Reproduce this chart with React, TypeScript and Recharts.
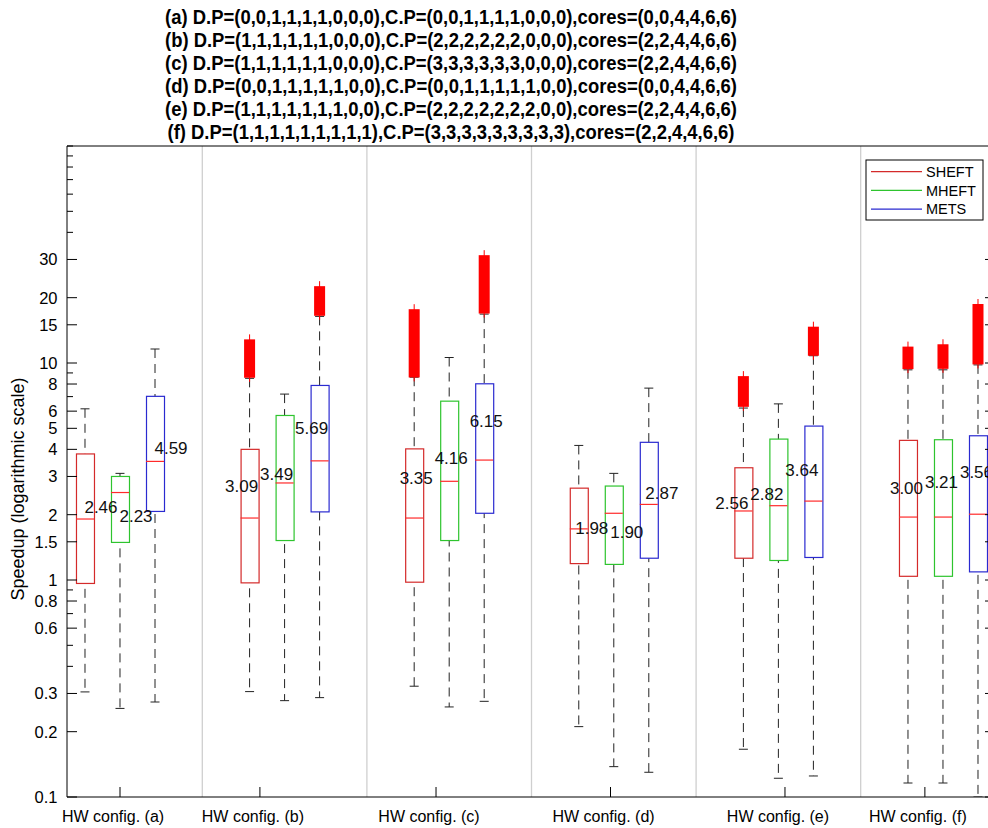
import { ComposedChart, Bar, Scatter, XAxis, YAxis, ReferenceLine } from 'recharts'

const CONFIGS = ['(a)', '(b)', '(c)', '(d)', '(e)', '(f)']
const ALGOS = ['SHEFT', 'MHEFT', 'METS']

const TITLES = [
  '(a) D.P=(0,0,1,1,1,1,0,0,0),C.P=(0,0,1,1,1,1,0,0,0),cores=(0,0,4,4,6,6)',
  '(b) D.P=(1,1,1,1,1,1,0,0,0),C.P=(2,2,2,2,2,2,0,0,0),cores=(2,2,4,4,6,6)',
  '(c) D.P=(1,1,1,1,1,1,0,0,0),C.P=(3,3,3,3,3,3,0,0,0),cores=(2,2,4,4,6,6)',
  '(d) D.P=(0,0,1,1,1,1,1,0,0),C.P=(0,0,1,1,1,1,1,0,0),cores=(0,0,4,4,6,6)',
  '(e) D.P=(1,1,1,1,1,1,1,0,0),C.P=(2,2,2,2,2,2,2,0,0),cores=(2,2,4,4,6,6)',
  '(f) D.P=(1,1,1,1,1,1,1,1,1),C.P=(3,3,3,3,3,3,3,3,3),cores=(2,2,4,4,6,6)',
]

// one row per HW config, values for [SHEFT, MHEFT, METS]
const WHISKER_LOW = [
  [0.305, 0.256, 0.274],
  [0.306, 0.278, 0.287],
  [0.324, 0.26, 0.276],
  [0.211, 0.138, 0.13],
  [0.166, 0.122, 0.125],
  [0.116, 0.116, 0.1],
]
const Q1 = [
  [0.964, 1.49, 2.07],
  [0.97, 1.52, 2.06],
  [0.977, 1.52, 2.03],
  [1.19, 1.18, 1.26],
  [1.26, 1.23, 1.27],
  [1.04, 1.04, 1.09],
]
const MEDIAN = [
  [1.91, 2.53, 3.52],
  [1.93, 2.8, 3.54],
  [1.93, 2.85, 3.57],
  [1.72, 2.03, 2.23],
  [2.08, 2.2, 2.31],
  [1.95, 1.95, 2.01],
]
const Q3 = [
  [3.81, 3.0, 7.02],
  [4.0, 5.73, 7.88],
  [4.02, 6.67, 8.02],
  [2.65, 2.71, 4.31],
  [3.29, 4.46, 5.12],
  [4.4, 4.43, 4.62],
]
const WHISKER_HIGH = [
  [6.15, 3.1, 11.6],
  [8.5, 7.19, 16.4],
  [8.6, 10.6, 16.8],
  [4.17, 3.1, 7.66],
  [6.2, 6.48, 10.8],
  [9.3, 9.3, 9.8],
]
// extent of the dense outlier marks (null = none)
const OUTLIER_LOW = [
  [null, null, null],
  [8.55, null, 16.5],
  [8.58, null, 16.9],
  [null, null, null],
  [6.28, null, 10.8],
  [9.37, 9.4, 9.85],
]
const OUTLIER_HIGH = [
  [null, null, null],
  [12.85, null, 22.6],
  [17.7, null, 31.4],
  [null, null, null],
  [8.7, null, 14.7],
  [11.9, 12.2, 18.7],
]
const MEAN = [
  [2.46, 2.23, 4.59],
  [3.09, 3.49, 5.69],
  [3.35, 4.16, 6.15],
  [1.98, 1.9, 2.87],
  [2.56, 2.82, 3.64],
  [3.0, 3.21, 3.56],
]

const X_TICKS = [0, 0.85, 1.92, 2.98, 4.04, 4.89]
const Y_TICKS = [
  0.1, 0.2, 0.3, 0.4, 0.5, 0.6, 0.7, 0.8, 0.9, 1, 1.5, 2, 3, 4, 5, 6, 7, 8, 9,
  10, 15, 20, 30, 40, 50, 60, 70, 80, 90, 100,
]
const Y_LABELS = [0.1, 0.2, 0.3, 0.6, 0.8, 1, 1.5, 2, 3, 4, 5, 6, 8, 10, 15, 20, 30]

const COLORS = ['#d42a2a', '#2ec42e', '#2a2ad0']
const FONT = '"Liberation Sans", Arial, Helvetica, sans-serif'
const X_DOMAIN: [number, number] = [-0.322, 5.316]
const DODGE = 0.2127
const LABEL_DX = [16, -8, 2, 13, -11.5, -1.5]

const rows = CONFIGS.flatMap((_, g) =>
  ALGOS.map((_, a) => ({
    pos: g + (a - 1) * DODGE,
    g,
    a,
    whisker: [WHISKER_LOW[g][a], WHISKER_HIGH[g][a]],
    box: [Q1[g][a], Q3[g][a]],
    outliers: OUTLIER_LOW[g][a] == null ? null : [OUTLIER_LOW[g][a], OUTLIER_HIGH[g][a]],
    median: MEDIAN[g][a],
    mean: MEAN[g][a],
  }))
)

function WhiskerShape(props: any) {
  const { x, y, width, height } = props
  if (height == null || isNaN(height)) return null
  const cx = x + width / 2
  return (
    <g>
      <line x1={cx} x2={cx} y1={y} y2={y + height} stroke="#222" strokeDasharray="9 6" />
      <line x1={x} x2={x + width} y1={y} y2={y} stroke="#222" />
      <line x1={x} x2={x + width} y1={y + height} y2={y + height} stroke="#222" />
    </g>
  )
}

function BoxShape(props: any) {
  const { x, y, width, height, payload } = props
  if (height == null || isNaN(height)) return null
  return <rect x={x} y={y} width={width} height={height} fill="#fff" stroke={COLORS[payload.a]} strokeWidth={1.2} />
}

function OutlierShape(props: any) {
  const { x, y, width, height, payload } = props
  if (!payload.outliers || height == null || isNaN(height)) return null
  const cx = x + width / 2
  return (
    <g>
      <rect x={x} y={y} width={width} height={height} fill="#ff0000" />
      <line x1={cx} x2={cx} y1={y - 5} y2={y + height + 4} stroke="#ff0000" />
    </g>
  )
}

function MedianShape(props: any) {
  const { cx, cy } = props
  return <line x1={cx - 9} x2={cx + 9} y1={cy} y2={cy} stroke="#ff2a2a" strokeWidth={1.2} />
}

function MeanLabel(props: any) {
  const { cx, cy, payload } = props
  return (
    <text x={cx + LABEL_DX[payload.g]} y={cy + 18} textAnchor="middle" fontSize={17} fontFamily={FONT} fill="#111">
      {payload.mean.toFixed(2)}
    </text>
  )
}

function XTick(props: any) {
  const { x, y, index } = props
  return (
    <g>
      <line x1={x} x2={x} y1={y} y2={y - 10} stroke="#000" />
      <text x={x - 7} y={y + 24.5} textAnchor="middle" fontSize={16} fontFamily={FONT} fill="#000">
        {`HW config. ${CONFIGS[index]}`}
      </text>
    </g>
  )
}

function YTickLeft(props: any) {
  const { x, y, payload } = props
  const major = Y_LABELS.includes(payload.value)
  return (
    <g>
      <line x1={x} x2={x + (major ? 10 : 6)} y1={y} y2={y} stroke="#000" />
      {major && (
        <text x={x - 9.5} y={y + 6} textAnchor="end" fontSize={16.5} fontFamily={FONT} fill="#000">
          {String(payload.value)}
        </text>
      )}
    </g>
  )
}

function YTickRight(props: any) {
  const { x, y, payload } = props
  const major = Y_LABELS.includes(payload.value)
  return <line x1={x} x2={x - (major ? 10 : 6)} y1={y} y2={y} stroke="#000" />
}

export default function App() {
  return (
    <div style={{ position: 'fixed', left: 0, top: 0, width: 988, height: 828, overflow: 'hidden', background: '#fff' }}>
      <ComposedChart width={1000} height={828} data={rows} margin={{ top: 146, right: 0, bottom: 0, left: 0 }}>
        <XAxis
          xAxisId="main"
          type="number"
          dataKey="pos"
          domain={X_DOMAIN}
          allowDataOverflow
          ticks={X_TICKS}
          interval={0}
          tick={XTick}
          tickLine={false}
          tickSize={0}
          tickMargin={0}
          height={31}
          axisLine={{ stroke: '#000' }}
        />
        <XAxis xAxisId="whisker" type="number" dataKey="pos" domain={X_DOMAIN} allowDataOverflow hide />
        <XAxis xAxisId="outlier" type="number" dataKey="pos" domain={X_DOMAIN} allowDataOverflow hide />
        <YAxis
          yAxisId="left"
          type="number"
          scale="log"
          domain={[0.1, 100]}
          allowDataOverflow
          ticks={Y_TICKS}
          interval={0}
          tick={YTickLeft}
          tickLine={false}
          tickSize={0}
          tickMargin={0}
          width={67}
          axisLine={{ stroke: '#000' }}
        />
        <YAxis
          yAxisId="right"
          orientation="right"
          type="number"
          scale="log"
          domain={[0.1, 100]}
          allowDataOverflow
          ticks={Y_TICKS}
          interval={0}
          tick={YTickRight}
          tickLine={false}
          tickSize={0}
          tickMargin={0}
          width={5}
          axisLine={{ stroke: '#000' }}
        />
        {CONFIGS.slice(1).map((c, i) => (
          <ReferenceLine key={c} xAxisId="main" yAxisId="left" x={i + 0.5} stroke="#cfcfcf" strokeWidth={1.3} />
        ))}
        <ReferenceLine xAxisId="main" yAxisId="left" y={100} stroke="#000" />
        <Bar xAxisId="whisker" yAxisId="left" dataKey="whisker" barSize={9} shape={WhiskerShape} isAnimationActive={false} />
        <Bar xAxisId="main" yAxisId="left" dataKey="box" barSize={18} shape={BoxShape} isAnimationActive={false} />
        <Bar xAxisId="outlier" yAxisId="left" dataKey="outliers" barSize={11} shape={OutlierShape} isAnimationActive={false} />
        <Scatter xAxisId="main" yAxisId="left" dataKey="median" shape={MedianShape} isAnimationActive={false} />
        <Scatter xAxisId="main" yAxisId="left" dataKey="mean" shape={MeanLabel} isAnimationActive={false} />
      </ComposedChart>
      <svg width={988} height={828} style={{ position: 'absolute', left: 0, top: 0, pointerEvents: 'none' }}>
        {TITLES.map((t, i) => (
          <text
            key={t}
            x={451}
            y={23.5 + i * 23}
            textAnchor="middle"
            fontSize={21}
            fontWeight="bold"
            fontFamily={FONT}
            textLength={i === 5 ? 567 : 572}
            lengthAdjust="spacingAndGlyphs"
            fill="#000"
          >
            {t}
          </text>
        ))}
        <text
          x={18}
          y={489}
          transform="rotate(-90 18 489)"
          textAnchor="middle"
          dominantBaseline="central"
          fontSize={18}
          fontFamily={FONT}
          fill="#000"
        >
          Speedup (logarithmic scale)
        </text>
        <rect x={866} y={160} width={117} height={60} fill="#fff" stroke="#000" />
        {ALGOS.map((name, i) => (
          <g key={name}>
            <line x1={871} x2={922} y1={171.7 + i * 18.7} y2={171.7 + i * 18.7} stroke={COLORS[i]} strokeWidth={1.2} />
            <text x={926} y={177 + i * 18.7} fontSize={14.5} fontFamily={FONT} fill="#000">
              {name}
            </text>
          </g>
        ))}
      </svg>
    </div>
  )
}
